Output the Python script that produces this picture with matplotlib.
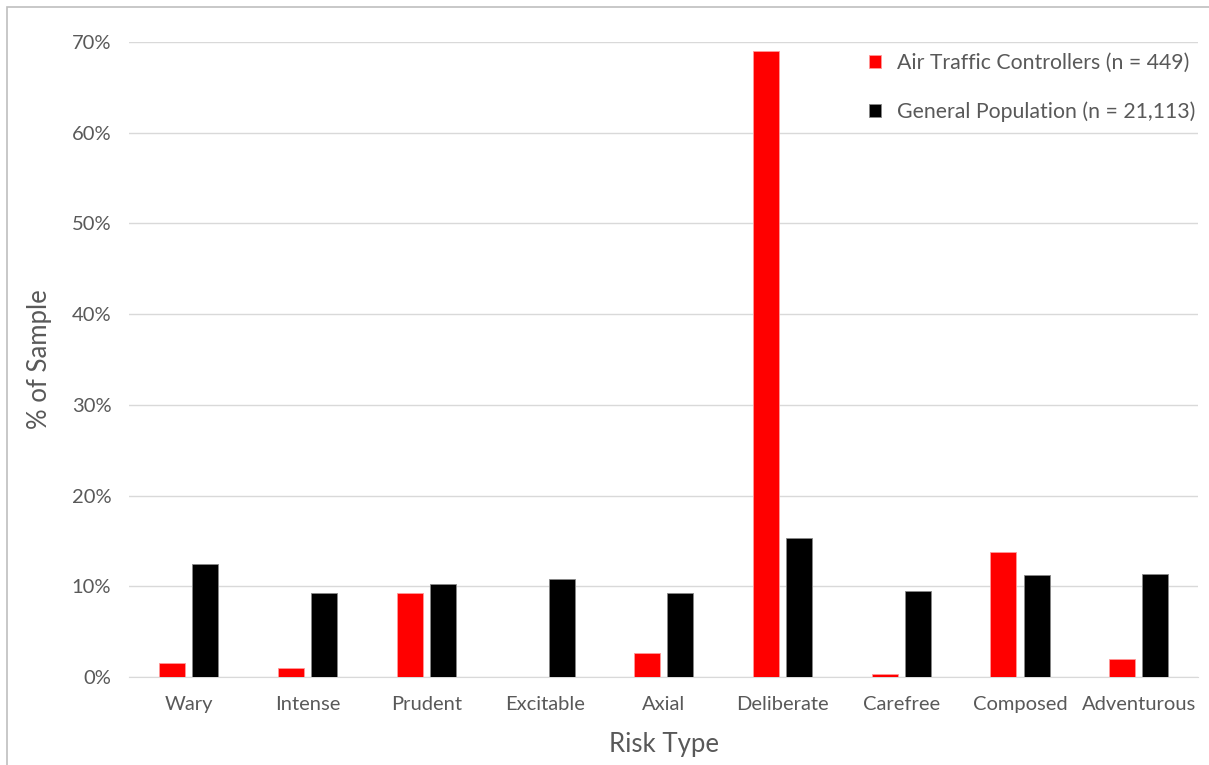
import matplotlib.pyplot as plt
import numpy as np
from matplotlib.patches import Rectangle
from matplotlib.ticker import FuncFormatter

# data (percent of sample)
risk_types = ['Wary', 'Intense', 'Prudent', 'Excitable', 'Axial',
              'Deliberate', 'Carefree', 'Composed', 'Adventurous']
atc = [1.5, 1.0, 9.3, 0.0, 2.6, 69.0, 0.3, 13.8, 2.0]
general = [12.5, 9.3, 10.3, 10.8, 9.3, 15.3, 9.5, 11.3, 11.4]
labels = ['Air Traffic Controllers (n = 449)', 'General Population (n = 21,113)']

plt.rcParams['font.family'] = ['Lato', 'DejaVu Sans']
txt = '#595959'

fig = plt.figure(figsize=(12.09, 7.65), dpi=100)
ax = fig.add_axes([0.107, 0.115, 0.884, 0.830])

# thin frame around chart area, like the office export
fig.patches.append(Rectangle((7 / 1209, -0.1), 1.2, 1.1 - 7 / 765,
                             transform=fig.transFigure, fill=False,
                             edgecolor='#BFBFBF', lw=1.2))

x = np.arange(len(risk_types))
w = 0.22
ax.bar(x - 0.14, atc, w, color='#FF0000', edgecolor='#FF9999', lw=0.6, label=labels[0], zorder=3)
ax.bar(x + 0.14, general, w, color='#000000', edgecolor='#888888', lw=0.6, label=labels[1], zorder=3)

ax.set_xlim(-0.5, len(risk_types) - 0.5)
ax.set_ylim(0, 70)
ax.set_yticks(range(0, 71, 10))
ax.yaxis.set_major_formatter(FuncFormatter(lambda v, p: f'{v:.0f}%'))
ax.set_xticks(x)
ax.set_xticklabels(risk_types)

ax.grid(axis='y', color='#D9D9D9', lw=1, zorder=0)
for s in ['top', 'right', 'left']:
    ax.spines[s].set_visible(False)
ax.spines['bottom'].set_color('#D9D9D9')
ax.tick_params(axis='both', length=0, colors=txt, labelsize=14.5)
ax.tick_params(axis='y', pad=13)
ax.tick_params(axis='x', pad=14)

ax.set_ylabel('% of Sample', fontsize=18.5, color=txt, labelpad=14)
ax.set_xlabel('Risk Type', fontsize=18.5, color=txt, labelpad=13)

leg = ax.legend(loc='upper right', bbox_to_anchor=(1.0, 0.988), frameon=False,
                fontsize=15.3, handlelength=0.55, handleheight=0.55,
                handletextpad=0.75, labelspacing=1.35, borderaxespad=0, borderpad=0.15)
for t in leg.get_texts():
    t.set_color(txt)

fig.savefig('out.png', dpi=100)
